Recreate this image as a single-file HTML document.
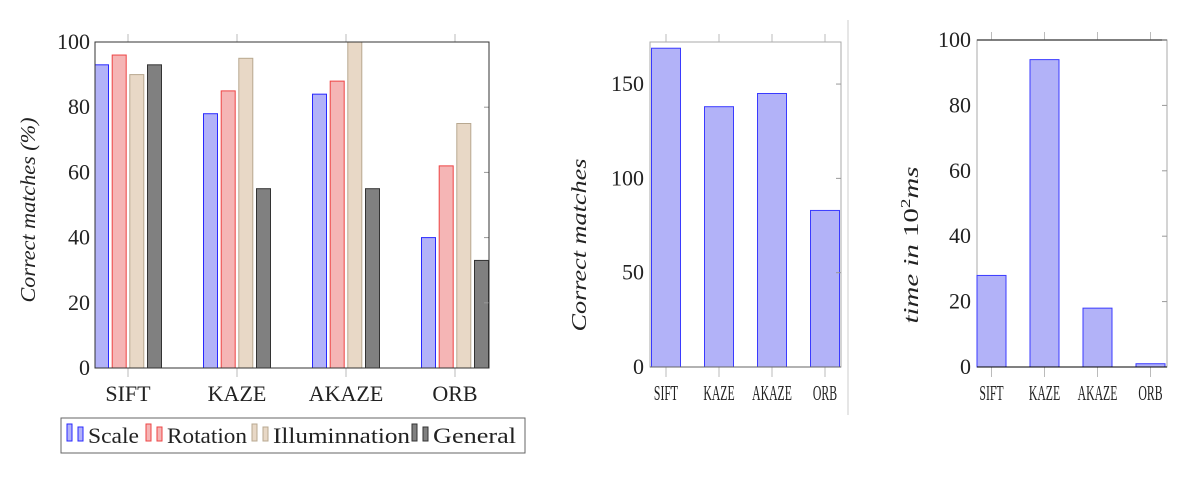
<!DOCTYPE html>
<html><head><meta charset="utf-8"><style>
body{margin:0;background:#fff}
svg text{font-family:"Liberation Serif",serif;fill:#222}
</style></head><body>
<svg id="s" width="1200" height="484" xmlns="http://www.w3.org/2000/svg">
<defs>
<clipPath id="c1"><rect x="95" y="30" width="394" height="340"/></clipPath>
</defs>
<g id="g1"></g>
<g id="g2"></g>
<g id="g3"></g>
<line x1="848" y1="20" x2="848" y2="415" stroke="#ccc" stroke-width="1"/>
</svg>
<script>
const categories = ["SIFT","KAZE","AKAZE","ORB"];
const seriesNames = ["Scale","Rotation","Illuminnation","General"];
const scaleVals = [93,78,84,40];
const rotationVals = [96,85,88,62];
const illumVals = [90,95,100,75];
const generalVals = [93,55,55,33];
const ticks1 = [0,20,40,60,80,100];
const matchesVals = [169,138,145,83];
const ticks2 = [0,50,100,150];
const timeVals = [28,94,18,1];
const ticks3 = [0,20,40,60,80,100];

const NS="http://www.w3.org/2000/svg";
function mk(parent,tag,attrs,text){const e=document.createElementNS(NS,tag);for(const k in attrs)e.setAttribute(k,attrs[k]);if(text!==undefined)e.textContent=text;parent.appendChild(e);return e;}

// Chart 1
(function(){
  const g=document.getElementById('g1');
  const x0=95,x1=489,yTop=42,yBot=368,max=100;
  const y=v=>yBot-(v/max)*(yBot-yTop);
  const cx=i=>128+i*109;
  const fills=["#b2b2f8","#f5b5b5","#e8d8c6","#808080"];
  const strokes=["#2828ff","#ee4444","#b8a890","#333"];
  const offs=[-26.5,-8.8,8.8,26.5];
  const all=[scaleVals,rotationVals,illumVals,generalVals];
  categories.forEach((c,i)=>{
    let t=mk(g,'line',{x1:cx(i),x2:cx(i),y1:34,y2:42,stroke:'#bbb'});
    
    t=mk(g,'line',{x1:cx(i),x2:cx(i),y1:368,y2:377,stroke:'#bbb'});
    
  });
  all.forEach((arr,s)=>{
    arr.forEach((v,i)=>{
      const r=mk(g,'rect',{x:cx(i)+offs[s]-7,y:y(v),width:14,height:yBot-y(v),fill:fills[s],stroke:strokes[s],'stroke-width':1,'clip-path':'url(#c1)'});
      
      
    });
  });
  ticks1.forEach(v=>{
    const t=mk(g,'text',{x:90,y:y(v)+7,'text-anchor':'end','font-size':22},v);
    
    if(v>0&&v<100){const l=mk(g,'line',{x1:484,x2:489,y1:y(v),y2:y(v),stroke:'#999'});}
  });
  const b=mk(g,'rect',{x:x0,y:yTop,width:x1-x0,height:yBot-yTop,fill:'none',stroke:'#333','stroke-width':1});
  
  categories.forEach((c,i)=>{
    const t=mk(g,'text',{x:cx(i),y:401,'text-anchor':'middle','font-size':22},c);
    
  });
  const yt=mk(g,'text',{x:0,y:0,'text-anchor':'middle','font-size':21,'font-style':'italic',textLength:185,lengthAdjust:'spacingAndGlyphs',transform:'translate(35,210) rotate(-90)'},'Correct matches (%)');
  
  // legend
  const lg=mk(g,'g',{});
  
  mk(lg,'rect',{x:61,y:418,width:464,height:35,fill:'#fff',stroke:'#666'});
  const lx=[67,146,252,412];
  const tl=[51,80,137,83];
  seriesNames.forEach((n,s)=>{
    const e=mk(lg,'g',{});
    
    mk(e,'rect',{x:lx[s],y:424,width:5,height:17,fill:fills[s],stroke:strokes[s]});
    mk(e,'rect',{x:lx[s]+11,y:427,width:5,height:14,fill:fills[s],stroke:strokes[s]});
    mk(e,'text',{x:lx[s]+21,y:443,'font-size':22,textLength:tl[s],lengthAdjust:'spacingAndGlyphs'},n);
  });
})();

function simple(gid,vals,ticks,max,x0,x1,yTop,yBot,cx,title,titleX,boldTop){
  const g=document.getElementById(gid);
  const y=v=>yBot-(v/max)*(yBot-yTop);
  categories.forEach((c,i)=>{
    let t=mk(g,'line',{x1:cx(i),x2:cx(i),y1:yTop-8,y2:yTop,stroke:'#bbb'});
    
    t=mk(g,'line',{x1:cx(i),x2:cx(i),y1:yBot,y2:yBot+10,stroke:'#bbb'});
    
  });
  mk(g,'rect',{x:x0,y:yTop,width:x1-x0,height:yBot-yTop,fill:'none',stroke:'#aaa'});
  if(boldTop) mk(g,'line',{x1:x0,x2:x1,y1:yTop,y2:yTop,stroke:'#555','stroke-width':1.5});
  vals.forEach((v,i)=>{
    const r=mk(g,'rect',{x:cx(i)-14.5,y:y(v),width:29,height:yBot-y(v),fill:'#b2b2f8',stroke:'#3a3aff','stroke-width':1});
    
    
  });
  mk(g,'line',{x1:x0,x2:x1,y1:yBot,y2:yBot,stroke:boldTop?'#000':'#666'});
  ticks.forEach(v=>{
    const t=mk(g,'text',{x:x0-6,y:y(v)+7,'text-anchor':'end','font-size':22},v);
    
    if(v>0){const l=mk(g,'line',{x1:x1-5,x2:x1,y1:y(v),y2:y(v),stroke:'#999'});}
  });
  categories.forEach((c,i)=>{
    const t=mk(g,'text',{x:0,y:0,'text-anchor':'middle','font-size':21,transform:`translate(${cx(i)},400) scale(0.56,1)`},c);
    
  });
  const yt=mk(g,'text',{x:0,y:0,'text-anchor':'middle','font-size':21,'font-style':'italic',transform:`translate(${titleX},245) rotate(-90)`});
  
  if(title==='time'){
    yt.innerHTML='time in <tspan font-style="normal">10</tspan><tspan font-style="normal" font-size="14" dy="-8">2</tspan><tspan dy="8">ms</tspan>';
    yt.setAttribute('textLength','157');yt.setAttribute('lengthAdjust','spacingAndGlyphs');
  } else {yt.textContent=title;yt.setAttribute('textLength','173');yt.setAttribute('lengthAdjust','spacingAndGlyphs');}
}
simple('g2',matchesVals,ticks2,172.3,650,841,42,367,i=>666+i*53,'Correct matches',586,false);
simple('g3',timeVals,ticks3,100,977,1167,40,367,i=>991.5+i*53,'time',918,true);
</script>
</body></html>
